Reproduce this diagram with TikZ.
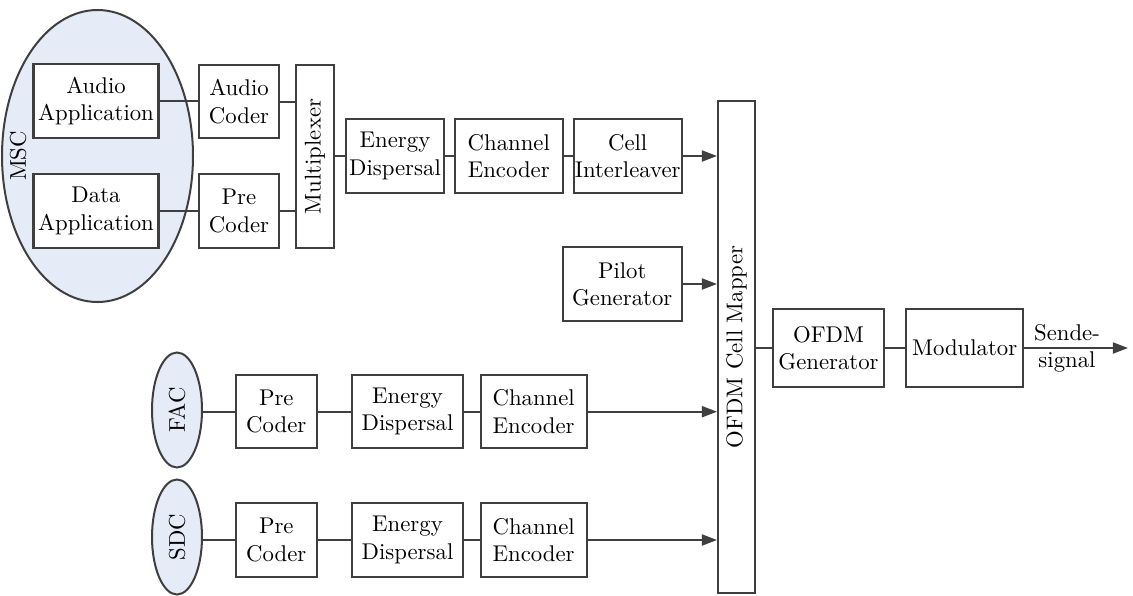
\documentclass[tikz,border=0pt]{standalone}
\usetikzlibrary{shapes.geometric,arrows.meta}
\definecolor{ln}{HTML}{3F3F3F}
\definecolor{ellfill}{HTML}{E6ECF7}
\def\px{*0.4393pt}
\begin{document}
\begin{tikzpicture}[x=0.4393pt,y=-0.4393pt,
  box/.style={draw=ln,line width=0.88pt,rectangle,inner sep=0pt,align=center,text=black},
  ell/.style={draw=ln,fill=ellfill,line width=0.88pt,ellipse,inner sep=0pt},
  conn/.style={draw=ln,line width=0.88pt},
  arr/.style={conn,-{Triangle[length=6.6pt,width=4.8pt]}},
  vlabel/.style={rotate=90,inner sep=0pt,text=black}]
\useasboundingbox (0,0) rectangle (1133,595);
% ellipses
\node[ell,minimum width=191\px,minimum height=292\px] (msc) at (97.5,156) {};
\node[vlabel] (msclab) at (18,156) {MSC};
\node[ell,minimum width=50\px,minimum height=115\px] (fac) at (177,410) {};
\node[vlabel] at (fac) {FAC};
\node[ell,minimum width=50\px,minimum height=115\px] (sdc) at (177,537) {};
\node[vlabel] at (sdc) {SDC};
% MSC branch
\node[box,fill=white,minimum width=125\px,minimum height=74\px] (aa) at (96,101) {Audio\\Application};
\node[box,fill=white,minimum width=125\px,minimum height=74\px] (da) at (96,211) {Data\\Application};
\node[box,minimum width=80\px,minimum height=73\px] (ac) at (239,101.5) {Audio\\Coder};
\node[box,minimum width=80\px,minimum height=74\px] (pc) at (239,211) {Pre\\Coder};
\node[box,minimum width=38\px,minimum height=183\px] (mux) at (315,156.5) {};
\node[vlabel] at (mux) {Multiplexer};
\node[box,minimum width=98.6\px,minimum height=73.4\px] (ed) at (395,156) {Energy\\Dispersal};
\node[box,minimum width=107.7\px,minimum height=73.7\px] (ce) at (508.8,156) {Channel\\Encoder};
\node[box,minimum width=108\px,minimum height=73.7\px] (ci) at (627.7,156) {Cell\\Interleaver};
\node[box,minimum width=119\px,minimum height=73.4\px] (pg) at (622.2,284) {Pilot\\Generator};
% FAC branch
\node[box,minimum width=80.7\px,minimum height=73.3\px] (fpc) at (276.3,411.7) {Pre\\Coder};
\node[box,minimum width=110.4\px,minimum height=73.3\px] (fed) at (407.5,411.7) {Energy\\Dispersal};
\node[box,minimum width=106\px,minimum height=73.3\px] (fce) at (533.7,411.7) {Channel\\Encoder};
% SDC branch
\node[box,minimum width=80.7\px,minimum height=73.3\px] (spc) at (276.3,540) {Pre\\Coder};
\node[box,minimum width=110.4\px,minimum height=73.3\px] (sed) at (407.5,540) {Energy\\Dispersal};
\node[box,minimum width=106\px,minimum height=73.3\px] (sce) at (533.7,540) {Channel\\Encoder};
% mapper and output
\node[box,minimum width=37\px,minimum height=492\px] (map) at (736.5,347) {};
\node[vlabel] at (map) {OFDM Cell Mapper};
\node[box,minimum width=111.6\px,minimum height=77.4\px] (og) at (828.5,348) {OFDM\\Generator};
\node[box,minimum width=117.3\px,minimum height=77.4\px] (mod) at (964.7,348) {Modulator};
\coordinate (out) at (1128,348);
\node[align=center,inner sep=0pt,text=black] (sig) at (1067,348) {Sende-\\signal};
% connectors
\draw[conn] (aa.east) -- (aa.east -| ac.west);
\draw[conn] (da.east) -- (da.east -| pc.west);
\draw[conn] (ac.east) -- (ac.east -| mux.west);
\draw[conn] (pc.east) -- (pc.east -| mux.west);
\draw[conn] (ed.west -| mux.east) -- (ed.west);
\draw[conn] (ed.east) -- (ce.west);
\draw[conn] (ce.east) -- (ci.west);
\draw[arr] (ci.east) -- (ci.east -| map.west);
\draw[arr] (pg.east) -- (pg.east -| map.west);
\draw[conn] (fpc.west -| fac.east) -- (fpc.west);
\draw[conn] (fpc.east) -- (fed.west);
\draw[conn] (fed.east) -- (fce.west);
\draw[arr] (fce.east) -- (fce.east -| map.west);
\draw[conn] (spc.west -| sdc.east) -- (spc.west);
\draw[conn] (spc.east) -- (sed.west);
\draw[conn] (sed.east) -- (sce.west);
\draw[arr] (sce.east) -- (sce.east -| map.west);
\draw[conn] (og.west -| map.east) -- (og.west);
\draw[conn] (og.east) -- (mod.west);
\draw[arr] (mod.east) -- (out);
\end{tikzpicture}
\end{document}
